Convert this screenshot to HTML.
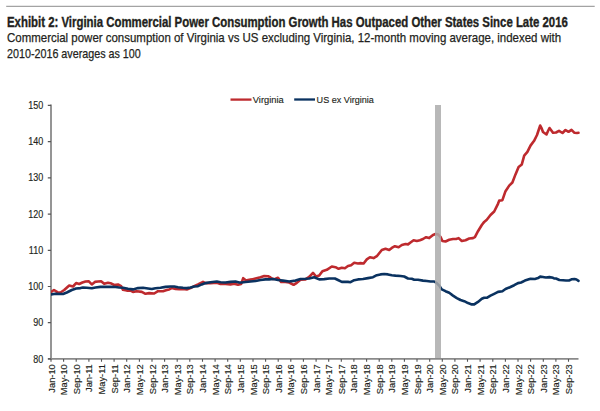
<!DOCTYPE html>
<html><head><meta charset="utf-8"><title>Exhibit 2: Virginia Commercial Power Consumption</title><style>
html,body{margin:0;padding:0;background:#fff;width:600px;height:411px;overflow:hidden}
body{position:relative;font-family:"Liberation Sans",sans-serif;color:#231f20}
.t{position:absolute;left:7px;white-space:nowrap;transform-origin:0 0;-webkit-text-stroke:0.25px #231f20}
svg{position:absolute;left:0;top:0}
svg text{font-family:"Liberation Sans",sans-serif;font-size:9px;fill:#231f20;stroke:#231f20;stroke-width:0.15px}
.xl{font-size:9.3px}
</style></head><body>
<div class="t" style="top:14.7px;font-size:14px;line-height:14px;font-weight:bold;-webkit-text-stroke:0.35px #231f20;transform:scaleX(0.814)">Exhibit 2: Virginia Commercial Power Consumption Growth Has Outpaced Other States Since Late 2016</div>
<div class="t" style="top:31px;font-size:13px;line-height:13px;transform:scaleX(0.882)">Commercial power consumption of Virginia vs US excluding Virginia, 12-month moving average, indexed with</div>
<div class="t" style="top:46.7px;font-size:13px;line-height:13px;transform:scaleX(0.826)">2010-2016 averages as 100</div>
<svg width="600" height="411" viewBox="0 0 600 411">
<defs><clipPath id="pc"><rect x="51" y="95" width="540" height="270"/></clipPath></defs>
<path d="M6.2,6.4 H594.7" stroke="#a3a3a3" stroke-width="1.3"/>
<path d="M51,104.6 V359.8" stroke="#8a8a8a" stroke-width="1.8" fill="none"/>
<path d="M48,358.9 H578.5" stroke="#8a8a8a" stroke-width="1.8" fill="none"/>
<path d="M47.8,358.9 H51 M47.8,322.7 H51 M47.8,286.5 H51 M47.8,250.3 H51 M47.8,214.1 H51 M47.8,177.8 H51 M47.8,141.6 H51 M47.8,105.4 H51 " stroke="#555" stroke-width="1.2" fill="none"/>
<path d="M51.0,358.9 V361.8 M63.6,358.9 V361.8 M76.2,358.9 V361.8 M88.9,358.9 V361.8 M101.5,358.9 V361.8 M114.1,358.9 V361.8 M126.7,358.9 V361.8 M139.4,358.9 V361.8 M152.0,358.9 V361.8 M164.6,358.9 V361.8 M177.2,358.9 V361.8 M189.8,358.9 V361.8 M202.5,358.9 V361.8 M215.1,358.9 V361.8 M227.7,358.9 V361.8 M240.3,358.9 V361.8 M253.0,358.9 V361.8 M265.6,358.9 V361.8 M278.2,358.9 V361.8 M290.8,358.9 V361.8 M303.4,358.9 V361.8 M316.1,358.9 V361.8 M328.7,358.9 V361.8 M341.3,358.9 V361.8 M353.9,358.9 V361.8 M366.6,358.9 V361.8 M379.2,358.9 V361.8 M391.8,358.9 V361.8 M404.4,358.9 V361.8 M417.0,358.9 V361.8 M429.7,358.9 V361.8 M442.3,358.9 V361.8 M454.9,358.9 V361.8 M467.5,358.9 V361.8 M480.1,358.9 V361.8 M492.8,358.9 V361.8 M505.4,358.9 V361.8 M518.0,358.9 V361.8 M530.6,358.9 V361.8 M543.3,358.9 V361.8 M555.9,358.9 V361.8 M568.5,358.9 V361.8 " stroke="#555" stroke-width="1.1" fill="none"/>
<g clip-path="url(#pc)">
<path d="M50.5,291.9 L51.1,291.9 L54.0,290.0 L57.4,292.2 L60.5,292.5 L64.2,290.0 L69.2,285.6 L73.0,286.5 L76.1,283.1 L79.2,284.0 L82.4,282.5 L85.5,281.5 L88.6,281.2 L91.8,284.4 L94.9,281.9 L98.0,281.5 L101.1,281.2 L104.2,283.8 L108.0,282.8 L110.5,283.2 L114.2,285.0 L118.0,284.5 L121.1,286.2 L123.0,289.8 L126.8,290.6 L130.5,290.6 L133.0,291.9 L136.8,291.2 L141.8,291.9 L145.5,293.8 L149.2,293.1 L154.2,293.5 L158.0,291.2 L160.5,291.2 L163.0,291.2 L166.8,290.0 L169.2,289.4 L171.8,288.1 L175.5,289.0 L179.2,289.2 L183.0,289.0 L186.8,289.5 L190.5,288.1 L194.2,286.2 L198.0,284.4 L200.5,283.1 L203.0,281.9 L205.5,283.1 L210.5,283.1 L216.8,282.8 L220.5,284.0 L225.5,284.0 L230.5,284.4 L234.2,283.8 L238.0,284.8 L241.1,284.1 L243.2,278.2 L246.1,280.5 L248.0,280.1 L251.8,279.4 L255.5,278.5 L260.5,277.2 L264.2,276.0 L268.0,276.2 L270.5,277.5 L273.0,279.0 L275.5,278.8 L278.0,277.8 L281.1,281.9 L285.5,281.9 L289.2,282.5 L293.6,284.8 L296.8,282.8 L300.5,279.8 L305.5,279.4 L309.2,276.9 L313.0,272.9 L316.1,276.5 L319.2,275.6 L322.4,271.2 L326.8,269.8 L331.8,266.5 L335.5,267.2 L338.6,268.8 L341.8,267.8 L344.9,268.2 L348.0,266.0 L351.1,265.2 L354.2,262.8 L358.0,263.5 L360.5,263.1 L363.6,263.5 L366.8,259.4 L369.9,257.2 L373.6,258.1 L376.8,256.2 L381.8,250.0 L385.5,248.8 L389.2,250.0 L391.8,247.9 L394.9,246.2 L398.6,247.2 L401.8,245.0 L405.5,244.0 L408.0,244.4 L410.5,242.5 L413.6,240.2 L416.8,241.0 L419.9,240.2 L423.0,239.0 L426.1,237.2 L429.2,238.1 L433.0,235.0 L435.5,234.0 L438.0,234.4 L440.5,236.9 L442.4,241.0 L445.5,241.5 L449.2,239.8 L453.0,239.0 L456.1,239.0 L458.6,238.1 L461.8,241.0 L465.5,240.2 L469.2,238.5 L473.0,238.1 L474.9,237.2 L478.0,231.2 L481.8,225.0 L484.2,221.9 L486.8,219.8 L490.5,215.0 L494.2,211.5 L498.0,203.8 L499.2,200.6 L502.4,200.2 L505.5,191.2 L509.2,185.6 L512.4,182.5 L515.5,174.4 L518.6,166.9 L521.8,164.4 L524.2,155.6 L527.4,151.9 L530.5,145.6 L534.1,140.8 L537.0,135.0 L539.0,129.0 L540.2,125.5 L541.5,128.0 L543.0,132.0 L546.5,134.5 L548.0,131.0 L549.5,128.0 L551.0,130.0 L553.0,132.8 L556.0,132.5 L559.0,130.8 L562.5,133.0 L565.5,130.0 L568.5,131.8 L571.5,129.8 L574.5,132.8 L577.0,133.0 L578.5,132.8" stroke="#be2a2e" stroke-width="2.6" fill="none" stroke-linejoin="round" stroke-linecap="round"/>
<path d="M50.5,294.4 L51.1,294.4 L55.5,293.8 L63.0,294.0 L66.8,292.5 L71.8,290.0 L76.1,288.5 L80.5,288.1 L83.0,287.5 L86.8,287.8 L91.8,288.2 L95.5,287.5 L100.5,286.9 L105.5,286.9 L110.5,286.9 L115.5,287.0 L119.2,287.5 L123.0,287.8 L128.0,288.8 L133.0,289.4 L138.0,288.1 L143.0,287.8 L148.0,288.5 L151.8,289.0 L155.5,288.2 L160.5,287.8 L165.5,286.9 L170.5,286.5 L174.2,286.5 L178.0,287.2 L183.0,287.8 L186.8,288.1 L190.5,287.5 L194.2,286.5 L198.0,286.2 L201.8,284.4 L205.5,283.1 L210.5,282.2 L216.8,281.5 L220.5,282.2 L225.5,282.5 L230.5,281.9 L235.5,281.5 L239.2,282.5 L241.8,282.5 L245.5,282.0 L250.5,281.5 L255.5,281.0 L260.5,280.0 L265.5,279.4 L269.2,279.4 L273.0,279.0 L278.0,280.0 L283.0,280.6 L289.2,281.5 L295.5,280.6 L300.5,279.0 L305.5,278.8 L309.2,278.5 L314.2,277.2 L319.2,279.4 L324.2,279.1 L329.2,278.5 L334.9,278.5 L338.0,280.0 L341.8,281.9 L348.0,281.9 L350.5,282.2 L354.2,280.2 L358.0,279.4 L363.0,279.0 L368.0,278.1 L373.0,277.2 L376.8,275.2 L380.5,274.4 L384.2,274.0 L388.0,274.4 L391.8,275.2 L395.5,275.6 L400.5,276.0 L404.2,276.5 L408.0,278.5 L411.8,278.8 L414.2,279.8 L418.0,279.8 L423.0,280.6 L426.8,281.0 L430.5,281.5 L434.2,281.5 L436.8,283.1 L439.2,285.6 L441.8,289.4 L445.5,291.2 L449.2,292.8 L453.0,295.6 L456.8,298.1 L460.5,300.0 L464.2,301.2 L468.0,303.1 L471.8,304.4 L474.2,304.4 L478.0,301.9 L481.8,298.8 L484.2,297.8 L486.8,297.8 L490.5,295.6 L494.2,293.8 L498.0,291.9 L502.4,291.2 L505.5,289.0 L509.9,287.2 L514.2,285.2 L518.0,283.1 L521.1,282.5 L524.9,280.6 L530.5,278.8 L534.9,279.0 L538.0,278.1 L540.2,276.6 L543.0,277.0 L544.2,277.2 L546.0,277.5 L549.4,277.1 L553.0,277.8 L554.2,278.5 L556.0,278.5 L559.4,280.0 L563.0,280.3 L566.0,280.5 L569.0,280.5 L571.5,279.3 L574.5,279.0 L576.5,279.5 L578.5,280.8" stroke="#0a3260" stroke-width="2.6" fill="none" stroke-linejoin="round" stroke-linecap="round"/>
</g>
<rect x="435" y="105" width="6" height="253" fill="#acacac" fill-opacity="0.85"/>
<text transform="translate(43.2,362.50) scale(0.9,1)" text-anchor="end" style="font-size:10px">80</text>
<text transform="translate(43.2,326.29) scale(0.9,1)" text-anchor="end" style="font-size:10px">90</text>
<text transform="translate(43.2,290.08) scale(0.9,1)" text-anchor="end" style="font-size:10px">100</text>
<text transform="translate(43.2,253.87) scale(0.9,1)" text-anchor="end" style="font-size:10px">110</text>
<text transform="translate(43.2,217.66) scale(0.9,1)" text-anchor="end" style="font-size:10px">120</text>
<text transform="translate(43.2,181.45) scale(0.9,1)" text-anchor="end" style="font-size:10px">130</text>
<text transform="translate(43.2,145.24) scale(0.9,1)" text-anchor="end" style="font-size:10px">140</text>
<text transform="translate(43.2,109.03) scale(0.9,1)" text-anchor="end" style="font-size:10px">150</text>
<text transform="translate(54.5,364.2) rotate(-90)" text-anchor="end" class="xl">Jan-10</text>
<text transform="translate(67.1,364.2) rotate(-90)" text-anchor="end" class="xl">May-10</text>
<text transform="translate(79.7,364.2) rotate(-90)" text-anchor="end" class="xl">Sep-10</text>
<text transform="translate(92.4,364.2) rotate(-90)" text-anchor="end" class="xl">Jan-11</text>
<text transform="translate(105.0,364.2) rotate(-90)" text-anchor="end" class="xl">May-11</text>
<text transform="translate(117.6,364.2) rotate(-90)" text-anchor="end" class="xl">Sep-11</text>
<text transform="translate(130.2,364.2) rotate(-90)" text-anchor="end" class="xl">Jan-12</text>
<text transform="translate(142.9,364.2) rotate(-90)" text-anchor="end" class="xl">May-12</text>
<text transform="translate(155.5,364.2) rotate(-90)" text-anchor="end" class="xl">Sep-12</text>
<text transform="translate(168.1,364.2) rotate(-90)" text-anchor="end" class="xl">Jan-13</text>
<text transform="translate(180.7,364.2) rotate(-90)" text-anchor="end" class="xl">May-13</text>
<text transform="translate(193.3,364.2) rotate(-90)" text-anchor="end" class="xl">Sep-13</text>
<text transform="translate(206.0,364.2) rotate(-90)" text-anchor="end" class="xl">Jan-14</text>
<text transform="translate(218.6,364.2) rotate(-90)" text-anchor="end" class="xl">May-14</text>
<text transform="translate(231.2,364.2) rotate(-90)" text-anchor="end" class="xl">Sep-14</text>
<text transform="translate(243.8,364.2) rotate(-90)" text-anchor="end" class="xl">Jan-15</text>
<text transform="translate(256.5,364.2) rotate(-90)" text-anchor="end" class="xl">May-15</text>
<text transform="translate(269.1,364.2) rotate(-90)" text-anchor="end" class="xl">Sep-15</text>
<text transform="translate(281.7,364.2) rotate(-90)" text-anchor="end" class="xl">Jan-16</text>
<text transform="translate(294.3,364.2) rotate(-90)" text-anchor="end" class="xl">May-16</text>
<text transform="translate(306.9,364.2) rotate(-90)" text-anchor="end" class="xl">Sep-16</text>
<text transform="translate(319.6,364.2) rotate(-90)" text-anchor="end" class="xl">Jan-17</text>
<text transform="translate(332.2,364.2) rotate(-90)" text-anchor="end" class="xl">May-17</text>
<text transform="translate(344.8,364.2) rotate(-90)" text-anchor="end" class="xl">Sep-17</text>
<text transform="translate(357.4,364.2) rotate(-90)" text-anchor="end" class="xl">Jan-18</text>
<text transform="translate(370.1,364.2) rotate(-90)" text-anchor="end" class="xl">May-18</text>
<text transform="translate(382.7,364.2) rotate(-90)" text-anchor="end" class="xl">Sep-18</text>
<text transform="translate(395.3,364.2) rotate(-90)" text-anchor="end" class="xl">Jan-19</text>
<text transform="translate(407.9,364.2) rotate(-90)" text-anchor="end" class="xl">May-19</text>
<text transform="translate(420.5,364.2) rotate(-90)" text-anchor="end" class="xl">Sep-19</text>
<text transform="translate(433.2,364.2) rotate(-90)" text-anchor="end" class="xl">Jan-20</text>
<text transform="translate(445.8,364.2) rotate(-90)" text-anchor="end" class="xl">May-20</text>
<text transform="translate(458.4,364.2) rotate(-90)" text-anchor="end" class="xl">Sep-20</text>
<text transform="translate(471.0,364.2) rotate(-90)" text-anchor="end" class="xl">Jan-21</text>
<text transform="translate(483.6,364.2) rotate(-90)" text-anchor="end" class="xl">May-21</text>
<text transform="translate(496.3,364.2) rotate(-90)" text-anchor="end" class="xl">Sep-21</text>
<text transform="translate(508.9,364.2) rotate(-90)" text-anchor="end" class="xl">Jan-22</text>
<text transform="translate(521.5,364.2) rotate(-90)" text-anchor="end" class="xl">May-22</text>
<text transform="translate(534.1,364.2) rotate(-90)" text-anchor="end" class="xl">Sep-22</text>
<text transform="translate(546.8,364.2) rotate(-90)" text-anchor="end" class="xl">Jan-23</text>
<text transform="translate(559.4,364.2) rotate(-90)" text-anchor="end" class="xl">May-23</text>
<text transform="translate(572.0,364.2) rotate(-90)" text-anchor="end" class="xl">Sep-23</text>
<path d="M230.5,99.6 H251.5" stroke="#be2a2e" stroke-width="2.3"/>
<text transform="translate(252.8,102.6) scale(0.96,1)" style="font-size:9.7px">Virginia</text>
<path d="M294.2,99.5 H315" stroke="#0a3260" stroke-width="2.3"/>
<text transform="translate(316.6,102.6) scale(0.935,1)" style="font-size:9.7px">US ex Virginia</text>
</svg>
</body></html>
